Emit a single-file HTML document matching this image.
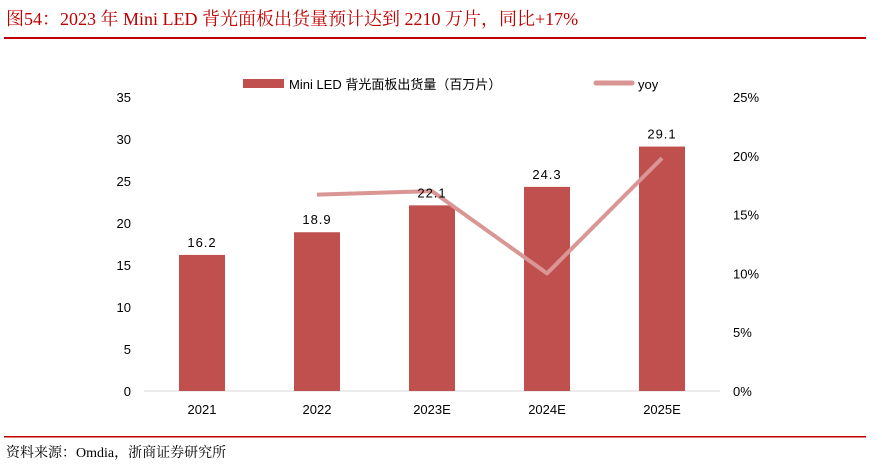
<!DOCTYPE html>
<html><head><meta charset="utf-8"><style>
body{margin:0;background:#fff;width:882px;height:468px;overflow:hidden}
text{font-family:"Liberation Sans","Noto Sans CJK SC",sans-serif}
</style></head><body>
<svg id="chart" width="882" height="468">
<text x="6" y="25" font-size="18" fill="#c00000" style="font-family:'Liberation Serif','Noto Serif CJK SC',serif">图54：2023 年 Mini LED 背光面板出货量预计达到 2210 万片，同比+17%</text>
<rect x="4" y="37" width="862" height="2" fill="#c00000"/>
<rect x="4" y="436" width="862" height="1.5" fill="#c00000"/>
<text x="6" y="457" font-size="14" fill="#000" style="font-family:'Liberation Serif','Noto Serif CJK SC',serif">资料来源：Omdia，浙商证券研究所</text>
<g>
<rect x="243" y="79" width="41" height="9" fill="#c0504d"/>
<text x="289" y="89" font-size="13">Mini LED 背光面板出货量（百万片）</text>
<line x1="596" y1="83" x2="632" y2="83" stroke="#d99694" stroke-width="5" stroke-linecap="round"/>
<text x="638" y="89" font-size="13">yoy</text>
</g>
<g id="plot"></g>
</svg>
<script>
const categories=["2021","2022","2023E","2024E","2025E"];
const shipments=[16.2,18.9,22.1,24.3,29.1];
const yoy=[null,16.7,17.0,10.0,19.8];
const leftTicks=[0,5,10,15,20,25,30,35];
const rightTicks=[0,5,10,15,20,25];
const ns="http://www.w3.org/2000/svg";
const g=document.getElementById('plot');
const y0=391,yTop=97;
const yL=v=>y0-(v/35)*(y0-yTop);
const yR=v=>y0-(v/25)*(y0-yTop);
const x=i=>202+i*115;
function mk(t,a){const e=document.createElementNS(ns,t);for(const k in a)e.setAttribute(k,a[k]);g.appendChild(e);return e;}
leftTicks.forEach(v=>{const t=mk('text',{x:131,y:yL(v)+5,'font-size':13,'text-anchor':'end'});t.textContent=v;

});
rightTicks.forEach(v=>{const t=mk('text',{x:733,y:yR(v)+5,'font-size':13});t.textContent=v+'%';

});
const ax=mk('line',{x1:144,y1:y0,x2:720,y2:y0,stroke:'#d9d9d9'});


categories.forEach((c,i)=>{
const b=mk('rect',{x:x(i)-23,y:yL(shipments[i]),width:46,height:y0-yL(shipments[i]),fill:'#c0504d'});


const t=mk('text',{x:x(i),y:414,'font-size':13,'text-anchor':'middle'});t.textContent=c;


});
const pts=yoy.map((v,i)=>v==null?null:x(i)+','+yR(v)).filter(p=>p);
const pl=mk('polyline',{points:pts.join(' '),fill:'none',stroke:'#d99694','stroke-width':4,'stroke-linejoin':'round'});


categories.forEach((c,i)=>{
const l=mk('text',{x:x(i),y:yL(shipments[i])-8,'font-size':13,'text-anchor':'middle','letter-spacing':1});l.textContent=shipments[i].toFixed(1);


});
</script>
</body></html>
